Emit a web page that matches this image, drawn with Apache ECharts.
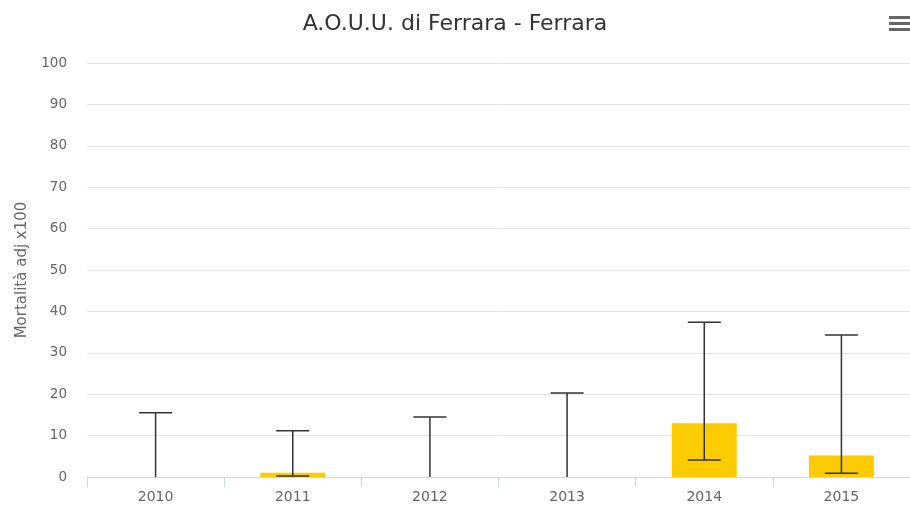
<!DOCTYPE html>
<html>
<head>
<meta charset="utf-8">
<script src="https://cdn.jsdelivr.net/npm/echarts@6/dist/echarts.min.js"></script>
<style>
  html, body { margin: 0; padding: 0; background: #fff; }
  #chart { width: 910px; height: 506px; }
</style>
</head>
<body>
<div id="chart"></div>
<script>
// dati
const anni = ['2010', '2011', '2012', '2013', '2014', '2015']
const mortalita = [0, 1.0, 0, 0, 13.0, 5.2]
const icBasso = [0, 0.25, 0, 0, 4.1, 0.9]
const icAlto = [15.5, 11.2, 14.5, 20.3, 37.4, 34.3]

const chart = echarts.init(document.getElementById('chart'))

const erroriData = anni.map(function (a, i) { return [i, icBasso[i], icAlto[i]] })
const font = 'DejaVu Sans'

chart.setOption({
  animation: false,
  title: {
    text: 'A.O.U.U. di Ferrara - Ferrara',
    left: 'center',
    top: 8,
    textStyle: { fontFamily: font, fontSize: 22, fontWeight: 'normal', color: '#333' }
  },
  graphic: [
    { type: 'rect', right: 0, top: 16, shape: { width: 21, height: 3 }, style: { fill: '#666' } },
    { type: 'rect', right: 0, top: 22, shape: { width: 21, height: 3 }, style: { fill: '#666' } },
    { type: 'rect', right: 0, top: 28, shape: { width: 21, height: 3 }, style: { fill: '#666' } }
  ],
  grid: { left: 87, right: 0, top: 63, bottom: 29 },
  xAxis: {
    type: 'category',
    data: anni,
    axisLine: { lineStyle: { color: '#ccd6eb' } },
    axisTick: { show: true, length: 10, lineStyle: { color: '#ccd6eb' } },
    axisLabel: { color: '#666', fontFamily: font, fontSize: 14, margin: 13 }
  },
  yAxis: {
    type: 'value',
    min: 0,
    max: 100,
    interval: 10,
    name: 'Mortalità adj x100',
    nameLocation: 'middle',
    nameGap: 57,
    nameTextStyle: { color: '#666', fontFamily: font, fontSize: 15 },
    axisLine: { show: false },
    axisTick: { show: false },
    splitLine: { lineStyle: { color: '#e6e6e6' } },
    axisLabel: { color: '#666', fontFamily: font, fontSize: 13.5, margin: 20 }
  },
  series: [
    {
      type: 'bar',
      data: mortalita,
      barWidth: 65,
      itemStyle: { color: '#fccc00' }
    },
    {
      type: 'custom',
      data: erroriData,
      z: 5,
      renderItem: function (params, api) {
        const x = api.value(0)
        const lo = api.coord([x, api.value(1)])
        const hi = api.coord([x, api.value(2)])
        const half = 16.5
        const st = { stroke: '#333', lineWidth: 1.5 }
        const parts = [
          { type: 'line', shape: { x1: hi[0], y1: hi[1], x2: lo[0], y2: lo[1] }, style: st },
          { type: 'line', shape: { x1: hi[0] - half, y1: hi[1], x2: hi[0] + half, y2: hi[1] }, style: st }
        ]
        // il baffo inferiore a zero resta sotto l'asse
        if (api.value(1) > 0) {
          parts.push({ type: 'line', shape: { x1: lo[0] - half, y1: lo[1], x2: lo[0] + half, y2: lo[1] }, style: st })
        }
        return { type: 'group', children: parts }
      }
    }
  ]
})
</script>
</body>
</html>
